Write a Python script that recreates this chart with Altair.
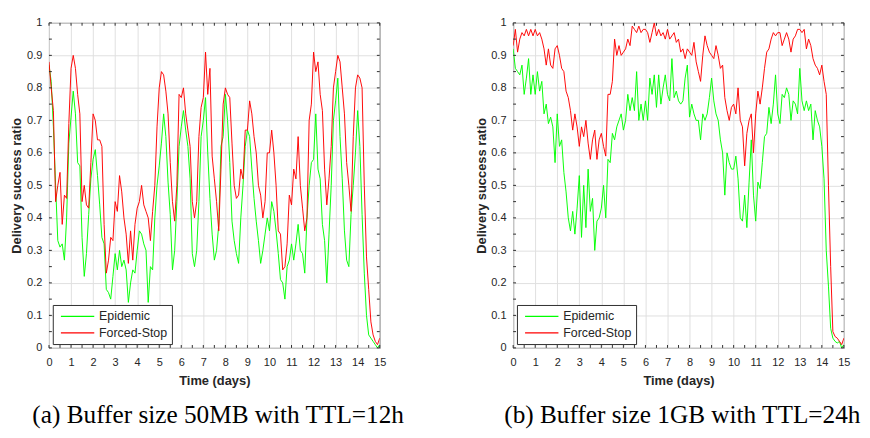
import altair as alt
import pandas as pd

days = [round(0.1 * i, 1) for i in range(151)]

left_epidemic = [
    0.87, 0.82, 0.68, 0.50, 0.33, 0.31, 0.32, 0.27, 0.40, 0.63,
    0.71, 0.79, 0.72, 0.57, 0.56, 0.34, 0.22, 0.29, 0.41, 0.52,
    0.58, 0.61, 0.53, 0.44, 0.34, 0.32, 0.18, 0.17, 0.15, 0.22,
    0.29, 0.24, 0.30, 0.25, 0.27, 0.24, 0.14, 0.20, 0.24, 0.23,
    0.30, 0.36, 0.35, 0.32, 0.30, 0.14, 0.25, 0.24, 0.40, 0.50,
    0.56, 0.63, 0.72, 0.65, 0.51, 0.41, 0.24, 0.30, 0.45, 0.62,
    0.68, 0.73, 0.67, 0.62, 0.52, 0.29, 0.25, 0.30, 0.45, 0.65,
    0.70, 0.77, 0.60, 0.46, 0.35, 0.27, 0.30, 0.38, 0.62, 0.65,
    0.78, 0.70, 0.57, 0.39, 0.33, 0.29, 0.26, 0.40, 0.50, 0.62,
    0.67, 0.65, 0.55, 0.46, 0.39, 0.33, 0.26, 0.30, 0.35, 0.40,
    0.36, 0.45, 0.42, 0.36, 0.29, 0.21, 0.20, 0.15, 0.25, 0.27,
    0.32, 0.27, 0.32, 0.38, 0.30, 0.29, 0.23, 0.40, 0.50, 0.57,
    0.58, 0.72, 0.55, 0.52, 0.38, 0.33, 0.20, 0.35, 0.50, 0.70,
    0.76, 0.83, 0.65, 0.52, 0.36, 0.27, 0.25, 0.41, 0.50, 0.60,
    0.73, 0.62, 0.41, 0.23, 0.10, 0.04, 0.03, 0.02, 0.01, 0.00,
    0.01,
]
left_forced_stop = [
    0.88, 0.80, 0.73, 0.45, 0.50, 0.54, 0.38, 0.47, 0.46, 0.69,
    0.86, 0.90, 0.86, 0.78, 0.72, 0.45, 0.50, 0.44, 0.43, 0.57,
    0.72, 0.70, 0.64, 0.64, 0.62, 0.38, 0.23, 0.27, 0.34, 0.33,
    0.45, 0.42, 0.53, 0.48, 0.40, 0.35, 0.26, 0.36, 0.27, 0.38,
    0.43, 0.45, 0.50, 0.44, 0.42, 0.40, 0.33, 0.42, 0.50, 0.68,
    0.80, 0.85, 0.84, 0.79, 0.72, 0.57, 0.45, 0.39, 0.50, 0.78,
    0.77, 0.80, 0.72, 0.67, 0.62, 0.45, 0.40, 0.45, 0.65, 0.74,
    0.77, 0.91, 0.78, 0.86, 0.59, 0.52, 0.45, 0.36, 0.55, 0.75,
    0.80, 0.78, 0.77, 0.63, 0.50, 0.46, 0.47, 0.55, 0.52, 0.67,
    0.67, 0.76, 0.72, 0.65, 0.60, 0.50, 0.47, 0.40, 0.45, 0.60,
    0.60, 0.67, 0.60, 0.50, 0.36, 0.35, 0.24, 0.25, 0.32, 0.47,
    0.44, 0.55, 0.52, 0.65, 0.50, 0.43, 0.36, 0.40, 0.70, 0.75,
    0.91, 0.85, 0.88, 0.78, 0.73, 0.55, 0.44, 0.52, 0.62, 0.80,
    0.85, 0.90, 0.88, 0.80, 0.72, 0.57, 0.50, 0.42, 0.65, 0.80,
    0.84, 0.83, 0.80, 0.50, 0.28, 0.18, 0.08, 0.04, 0.02, 0.01,
    0.03,
]
right_epidemic = [
    0.92, 0.86, 0.85, 0.84, 0.87, 0.78, 0.83, 0.89, 0.78, 0.84,
    0.78, 0.85, 0.79, 0.82, 0.72, 0.75, 0.69, 0.71, 0.68, 0.57,
    0.72, 0.62, 0.64, 0.54, 0.48, 0.40, 0.36, 0.42, 0.35, 0.43,
    0.53, 0.34, 0.50, 0.37, 0.55, 0.42, 0.46, 0.30, 0.39, 0.40,
    0.43, 0.50, 0.40, 0.58, 0.57, 0.66, 0.64, 0.68, 0.70, 0.72,
    0.67, 0.70, 0.78, 0.73, 0.77, 0.73, 0.85, 0.70, 0.75, 0.70,
    0.76, 0.70, 0.83, 0.78, 0.84, 0.74, 0.84, 0.75, 0.80, 0.84,
    0.78, 0.76, 0.89, 0.77, 0.79, 0.76, 0.75, 0.76, 0.83, 0.87,
    0.71, 0.75, 0.72, 0.70, 0.70, 0.64, 0.72, 0.70, 0.72, 0.77,
    0.83, 0.76, 0.72, 0.70, 0.64, 0.60, 0.47, 0.60, 0.57, 0.55,
    0.55, 0.59, 0.52, 0.40, 0.39, 0.47, 0.37, 0.51, 0.64, 0.47,
    0.39, 0.51, 0.49, 0.57, 0.65, 0.66, 0.74, 0.69, 0.75, 0.84,
    0.72, 0.69, 0.78, 0.77, 0.80, 0.78, 0.70, 0.76, 0.75, 0.72,
    0.86, 0.76, 0.73, 0.76, 0.73, 0.75, 0.64, 0.73, 0.70, 0.68,
    0.62, 0.52, 0.30, 0.19, 0.06, 0.03, 0.02, 0.015, 0.02, 0.00,
    0.01,
]
right_forced_stop = [
    0.93, 0.98, 0.91, 0.95, 0.97, 0.96, 0.98, 0.96, 0.98, 0.96,
    0.98, 0.96, 0.97, 0.95, 0.92, 0.87, 0.92, 0.87, 0.86, 0.92,
    0.93, 0.90, 0.86, 0.85, 0.79, 0.77, 0.73, 0.67, 0.72, 0.68,
    0.62, 0.68, 0.65, 0.70, 0.63, 0.58, 0.64, 0.67, 0.58, 0.64,
    0.66, 0.62, 0.59, 0.78, 0.78, 0.82, 0.95, 0.90, 0.93, 0.90,
    0.91, 0.92, 0.95, 0.93, 0.99, 0.98, 0.97, 0.99, 0.97, 0.98,
    0.98, 0.97, 0.94, 0.97, 1.00, 0.96, 0.98, 0.96, 0.97, 0.95,
    0.98, 0.95, 0.96, 0.97, 0.94, 0.95, 0.91, 0.92, 0.89, 0.92,
    0.91, 0.90, 0.94, 0.88, 0.85, 0.82, 0.90, 0.96, 0.93, 0.91,
    0.90, 0.89, 0.93, 0.90, 0.86, 0.87, 0.77, 0.73, 0.70, 0.74,
    0.75, 0.72, 0.80, 0.70, 0.68, 0.56, 0.66, 0.70, 0.72, 0.60,
    0.72, 0.79, 0.75, 0.80, 0.86, 0.91, 0.92, 0.95, 0.97, 0.96,
    0.97, 0.97, 0.93, 0.95, 0.97, 0.95, 0.91, 0.95, 0.96, 0.98,
    0.98, 0.97, 0.98, 0.92, 0.95, 0.93, 0.89, 0.87, 0.86, 0.84,
    0.87, 0.82, 0.78, 0.50, 0.25, 0.05, 0.035, 0.03, 0.02, 0.01,
    0.03,
]

series_names = ["Epidemic", "Forced-Stop"]
series_colors = ["#00ff00", "#ff0000"]
captions = ["(a) Buffer size 50MB with TTL=12h", "(b) Buffer size 1GB with TTL=24h"]

x_ticks = list(range(16))
x_minor = [i + 0.5 for i in range(15)]
y_ticks = [0, 0.1, 0.2, 0.3, 0.4, 0.5, 0.6, 0.7, 0.8, 0.9, 1]
y_minor = [0.05, 0.15, 0.25, 0.35, 0.45, 0.55, 0.65, 0.75, 0.85, 0.95]

W, H = 347, 341
AX = "#262626"
xscale = alt.Scale(domain=[0, 15], nice=False, zero=False)
yscale = alt.Scale(domain=[0, 1], nice=False, zero=False)
xaxis = alt.Axis(values=x_ticks, title="Time (days)", labelFlush=False,
                 labelPadding=10, titlePadding=5.5, grid=True)
yaxis = alt.Axis(values=y_ticks, format="~g", title="Delivery success ratio",
                 labelFlush=False, labelPadding=7.5, titlePadding=3, grid=True)


def panel(epi, fs, caption):
    df = pd.DataFrame({
        "day": days + days,
        "ratio": epi + fs,
        "series": [series_names[0]] * len(days) + [series_names[1]] * len(days),
    })
    line = alt.Chart(df).mark_line(strokeWidth=1, clip=True).encode(
        x=alt.X("day:Q", scale=xscale, axis=xaxis),
        y=alt.Y("ratio:Q", scale=yscale, axis=yaxis),
        color=alt.Color("series:N",
                        scale=alt.Scale(domain=series_names, range=series_colors),
                        legend=alt.Legend(title=None, orient="bottom-left", offset=4,
                                          fillColor="white", strokeColor=AX, padding=4,
                                          symbolType="M-0.5,0H4.5", symbolSize=196,
                                          symbolStrokeWidth=1.2, labelFont="Liberation Sans",
                                          labelFontSize=13, labelColor=AX, labelOffset=28.5,
                                          rowPadding=2.3)),
    )
    xt = pd.DataFrame({"day": x_ticks + x_minor})
    yt = pd.DataFrame({"ratio": y_ticks + y_minor})
    tb = alt.Chart(xt).mark_rule(color=AX, strokeWidth=1).encode(
        x=alt.X("day:Q", scale=xscale, axis=xaxis), y=alt.value(H), y2=alt.value(H - 3))
    tt = alt.Chart(xt).mark_rule(color=AX, strokeWidth=1).encode(
        x=alt.X("day:Q", scale=xscale, axis=xaxis), y=alt.value(0), y2=alt.value(3))
    tl = alt.Chart(yt).mark_rule(color=AX, strokeWidth=1).encode(
        y=alt.Y("ratio:Q", scale=yscale, axis=yaxis), x=alt.value(0), x2=alt.value(3))
    tr = alt.Chart(yt).mark_rule(color=AX, strokeWidth=1).encode(
        y=alt.Y("ratio:Q", scale=yscale, axis=yaxis), x=alt.value(W), x2=alt.value(W - 3))
    return alt.layer(line, tb, tt, tl, tr).properties(
        width=W, height=H,
        title=alt.TitleParams(caption, orient="bottom", anchor="middle", dx=4),
    )


chart = alt.hconcat(
    panel(left_epidemic, left_forced_stop, captions[0]),
    panel(right_epidemic, right_forced_stop, captions[1]),
    spacing=72,
).resolve_scale(color="independent").properties(
    padding={"left": 2, "top": -2, "right": 0, "bottom": 0},
    background="white",
).configure_axis(
    labelFont="Liberation Sans", labelFontSize=11.5, labelColor=AX,
    titleFont="Liberation Sans", titleFontSize=13.5, titleFontWeight="bold", titleColor=AX,
    gridColor="#dedede", gridWidth=1, domain=False, ticks=False,
).configure_view(
    stroke=AX, strokeWidth=1,
).configure_title(
    font="Liberation Serif", fontSize=26.5, fontWeight="normal", color="black", offset=17.5,
)

chart.save("out.html", embed_options={"renderer": "svg", "actions": False})
